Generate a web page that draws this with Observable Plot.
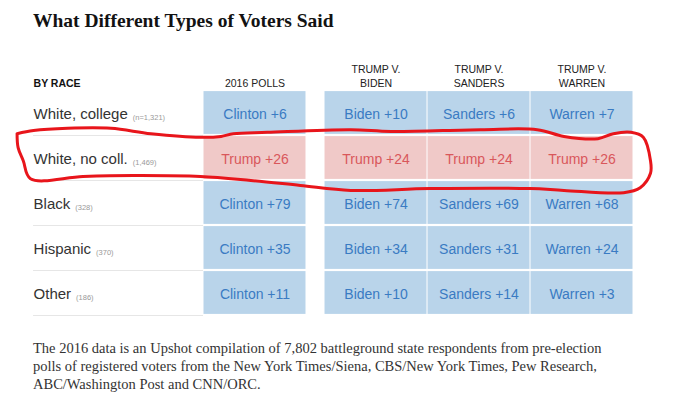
<!DOCTYPE html>
<html>
<head>
<meta charset="utf-8">
<script src="https://cdn.jsdelivr.net/npm/d3@7"></script>
<script src="https://cdn.jsdelivr.net/npm/@observablehq/plot@0.6"></script>
<style>
  html, body { margin: 0; padding: 0; background: #fff; }
  body { position: relative; width: 690px; height: 409px; overflow: hidden; }
  #title { position: absolute; left: 33px; top: 11px; font-family: "Liberation Serif", "Times New Roman", serif; font-weight: bold; font-size: 19.5px; line-height: 20px; color: #121212; white-space: nowrap; }
  #chart { position: absolute; left: 0; top: 40px; }
  #note { position: absolute; left: 33px; top: 339px; font-family: "Liberation Serif", Georgia, serif; font-size: 14.5px; line-height: 18px; color: #333; white-space: nowrap; }
</style>
</head>
<body>
<div id="title">What Different Types of Voters Said</div>
<div id="chart"></div>
<div id="note">The 2016 data is an Upshot compilation of 7,802 battleground state respondents from pre-election<br>polls of registered voters from the New York Times/Siena, CBS/New York Times, Pew Research,<br>ABC/Washington Post and CNN/ORC.</div>
<script>
// ---- data ----
const groups = ["White, college", "White, no coll.", "Black", "Hispanic", "Other"];
const sampleSizes = ["(n=1,321)", "(1,469)", "(328)", "(370)", "(186)"];
const sectionLabel = "BY RACE";
const columnHeaders = ["2016 POLLS", "TRUMP V.\nBIDEN", "TRUMP V.\nSANDERS", "TRUMP V.\nWARREN"];
const democrats = ["Clinton", "Biden", "Sanders", "Warren"];
const republican = "Trump";
// Democratic margin (negative = Trump lead)
const polls2016 = [6, -26, 79, 35, 11];
const trumpBiden = [10, -24, 74, 34, 10];
const trumpSanders = [6, -24, 69, 31, 14];
const trumpWarren = [7, -26, 68, 24, 3];
// hand-drawn red annotation loop around the "White, no coll." row (in column / row units)
const loopX = [-1.81,-1.65,-1.32,-0.90,-0.51,-0.03,0.17,0.29,0.62,1.43,1.82,2.69,3.24,3.50,3.83,3.98,4.15,4.27,4.34,4.34,4.24,4.08,3.50,3.17,2.20,1.43,0.94,0.46,-0.03,-0.68,-1.17,-1.68,-1.75,-1.80,-1.81];
const loopY = [0.96,0.89,0.84,0.84,0.96,1.04,1.02,0.96,0.93,0.87,0.91,0.87,0.87,1.02,1.07,0.96,0.93,1.04,1.56,1.84,2.16,2.27,2.22,2.18,2.18,2.22,2.11,2.00,1.91,1.89,1.91,1.96,1.56,1.27,0.96];

// ---- layout ----
const W = 690, H = 285;
const mLeft = 203, mRight = 57, mTop = 50, mBottom = 10;
const gap = 0.175;            // gap between 2016 column and 2020 matchups (column units)
const labelW = 1.65;          // width of the label column (column units)
const xMax = 4 + gap;
const pxPerUnit = (W - mLeft - mRight) / xMax;
const colStart = i => i + (i >= 1 ? gap : 0);

const series = [polls2016, trumpBiden, trumpSanders, trumpWarren];
const cells = [];
series.forEach((vals, c) => vals.forEach((v, r) => {
  cells.push({
    x1: colStart(c), x2: colStart(c) + 1, xm: colStart(c) + 0.5,
    y1: r, y2: r + 1, ym: r + 0.5,
    party: v > 0 ? "D" : "R",
    text: v > 0 ? `${democrats[c]} +${v}` : `${republican} +${-v}`
  });
}));

const ctx = document.createElement("canvas").getContext("2d");
ctx.font = "15px 'Liberation Sans'";
const rows = groups.map((g, i) => ({
  label: g, n: sampleSizes[i], y: i + 0.5, bottom: i + 1,
  nx: -labelW + (ctx.measureText(g).width + 5) / pxPerUnit
}));
const headers = columnHeaders.map((h, c) => ({text: h, x: colStart(c) + 0.5}));
const loop = loopX.map((x, i) => ({x, y: loopY[i]}));

const BLUE = "#b9d4ea", BLUE_T = "#3a7bc3", RED = "#f0c9c8", RED_T = "#d9575b";

const chart = Plot.plot({
  width: W, height: H,
  marginLeft: mLeft, marginRight: mRight, marginTop: mTop, marginBottom: mBottom,
  x: {domain: [0, xMax], axis: null},
  y: {domain: [0, 5], reverse: true, axis: null},
  style: {fontFamily: "'Liberation Sans', Arial, sans-serif", background: "#fff", overflow: "visible"},
  marks: [
    Plot.ruleY(rows, {y: "bottom", x1: -labelW, x2: 0, stroke: "#e6e6e6", strokeWidth: 1}),
    Plot.rect(cells.filter(d => d.party === "D"), {x1: "x1", x2: "x2", y1: "y1", y2: "y2", fill: BLUE, insetLeft: 0.5, insetRight: 0.5, insetTop: 1.1, insetBottom: 1.1}),
    Plot.rect(cells.filter(d => d.party === "R"), {x1: "x1", x2: "x2", y1: "y1", y2: "y2", fill: RED, insetLeft: 0.5, insetRight: 0.5, insetTop: 1.1, insetBottom: 1.1}),
    Plot.text(cells.filter(d => d.party === "D"), {x: "xm", y: "ym", text: "text", fill: BLUE_T, fontSize: 14, dy: 1.5}),
    Plot.text(cells.filter(d => d.party === "R"), {x: "xm", y: "ym", text: "text", fill: RED_T, fontSize: 14, dy: 1.5}),
    Plot.text(rows, {x: -labelW, y: "y", text: "label", textAnchor: "start", fill: "#333", fontSize: 15, dy: 1.5}),
    Plot.text(rows, {x: "nx", y: "y", text: "n", textAnchor: "start", fill: "#999", fontSize: 7.5, dy: 4.5}),
    Plot.text([sectionLabel], {x: -labelW, y: -0.08, text: d => d, textAnchor: "start", lineAnchor: "bottom", fontSize: 10.5, fontWeight: "bold", fill: "#121212"}),
    Plot.text(headers, {x: "x", y: -0.08, text: "text", lineAnchor: "bottom", fontSize: 10.5, lineHeight: 1.35, fill: "#222"}),
    Plot.line(loop, {x: "x", y: "y", stroke: "#e8151b", strokeWidth: 3, curve: "catmull-rom", strokeLinejoin: "round"})
  ]
});
document.getElementById("chart").appendChild(chart);
</script>
</body>
</html>
